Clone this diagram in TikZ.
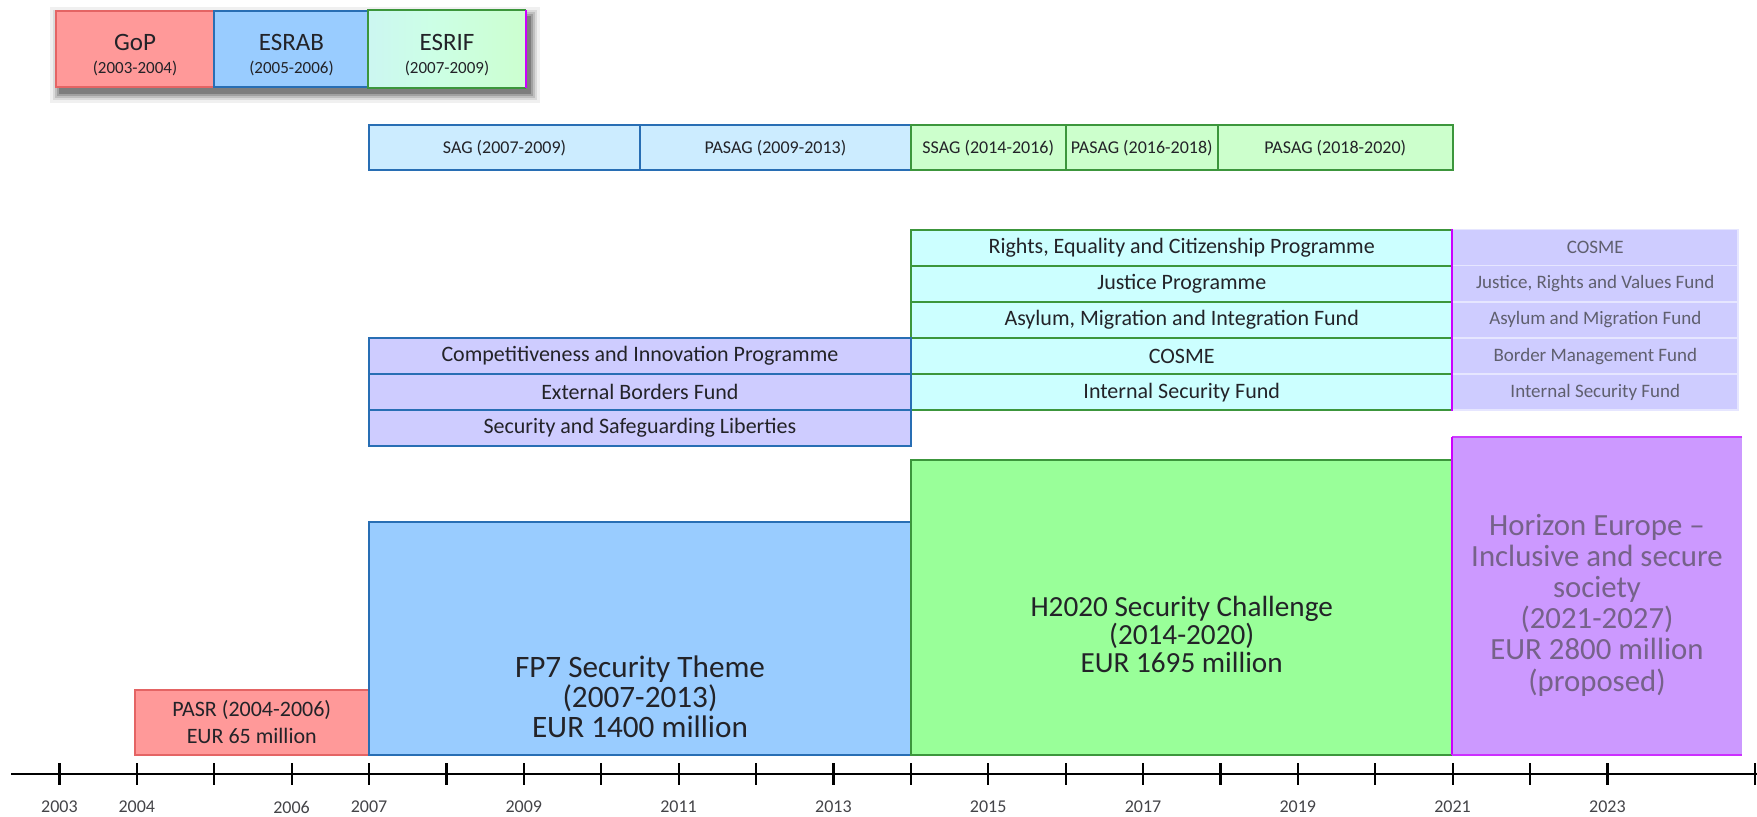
\documentclass[tikz,border=0pt]{standalone}
\usepackage{fontspec}
\setmainfont{Carlito}
\definecolor{redfill}{RGB}{255,153,153}
\definecolor{redline}{RGB}{228,100,100}
\definecolor{bluefill}{RGB}{153,204,255}
\definecolor{blueline}{RGB}{40,110,180}
\definecolor{greenfill}{RGB}{153,255,153}
\definecolor{greenline}{RGB}{60,150,60}
\definecolor{lgreen}{RGB}{204,255,204}
\definecolor{lblue}{RGB}{204,236,255}
\definecolor{lcyan}{RGB}{204,255,255}
\definecolor{lav}{RGB}{206,204,255}
\definecolor{purfill}{RGB}{204,153,255}
\definecolor{magline}{RGB}{204,0,255}
\definecolor{txt}{RGB}{35,35,40}
\definecolor{purtxt}{RGB}{118,98,138}
\definecolor{graytxt}{RGB}{95,95,110}
\pgfdeclarehorizontalshading{esrifshade}{100bp}{color(0bp)=(lblue); color(45bp)=(lcyan!50!lgreen); color(80bp)=(lgreen); color(92bp)=(lgreen!50!lav); color(100bp)=(lav)}
% box from (x1,y1) to (x2,y2), in pixel units (1px = 0.5pt)
\newcommand\bx[7]{%
  \pgfmathsetmacro\bxw{(#5-#3)*0.5}%
  \pgfmathsetmacro\bxh{(#6-#4)*0.5}%
  \node[#2, minimum width=\bxw pt, minimum height=\bxh pt, inner sep=0pt] (#1) at ({(#3+#5)/2},{(#4+#6)/2}) {#7};}
\tikzset{
  base/.style={line width=1pt, text=txt, align=center},
  topred/.style={base, fill=redfill, draw=redline},
  topblue/.style={base, fill=bluefill, draw=blueline},
  toptext/.style={align=center, text=txt, font=\fontsize{12.5}{11.5}\selectfont},
  sagblue/.style={base, fill=lblue, draw=blueline, font=\fontsize{9}{10}\selectfont},
  saggreen/.style={base, fill=lgreen, draw=greenline, font=\fontsize{9}{10}\selectfont},
  progcyan/.style={base, fill=lcyan, draw=greenline, font=\fontsize{11}{12}\selectfont},
  proglav/.style={base, fill=lav, draw=blueline, font=\fontsize{11}{12}\selectfont},
  futlav/.style={fill=lav, draw=lav!50!white, line width=0.7pt, text=graytxt, font=\fontsize{9.5}{11}\selectfont},
  bigbox/.style={base},
  bigtext/.style={align=center, text=txt},
  axis/.style={line width=1.1pt, black},
  ticklab/.style={font=\fontsize{9}{10}\selectfont, text=txt!85!white},
}
\begin{document}
\begin{tikzpicture}[x=0.5pt,y=-0.5pt]
\useasboundingbox (0,0) rectangle (1757,817);
% shadow of the top group
\foreach \e/\o in {10/0.06,7/0.09,5/0.12,3/0.16,1/0.22}{
  \fill[black,opacity=\o] (56+4-\e,11+6-\e) rectangle (525+5+\e,87+6+\e);
}
% top group
\bx{gop}{topred}{56}{11}{214}{87}{}
\bx{esrab}{topblue}{214}{11}{369}{87}{}
\bx{esrif}{base, shading=esrifshade}{369}{11}{525}{87}{}
\draw[greenline, line width=1pt] (esrif.north east) -- (esrif.north west) -- (esrif.south west) -- (esrif.south east);
\draw[magline, line width=1pt] (esrif.north east) -- (esrif.south east);
\node[toptext] (gopt) at (135,55) {GoP\\{\fontsize{8.5}{10}\selectfont (2003-2004)}};
\node[toptext] (esrabt) at (291.5,55) {ESRAB\\{\fontsize{8.5}{10}\selectfont (2005-2006)}};
\node[toptext] (esrift) at (447,55) {ESRIF\\{\fontsize{8.5}{10}\selectfont (2007-2009)}};
% advisory groups row
\bx{sag}{sagblue}{369}{125.5}{640}{170}{SAG (2007-2009)}
\bx{pasag1}{sagblue}{640}{125.5}{910.8}{170}{PASAG (2009-2013)}
\bx{ssag}{saggreen}{910.8}{125.5}{1065.6}{170}{SSAG (2014-2016)}
\bx{pasag2}{saggreen}{1065.6}{125.5}{1218}{170}{PASAG (2016-2018)}
\bx{pasag3}{saggreen}{1218}{125.5}{1452.6}{170}{PASAG (2018-2020)}
% 2014-2020 programmes
\bx{rec}{progcyan}{910.8}{229.7}{1452.6}{265.8}{Rights, Equality and Citizenship Programme}
\bx{jus}{progcyan}{910.8}{265.8}{1452.6}{301.9}{Justice Programme}
\bx{amif}{progcyan}{910.8}{301.9}{1452.6}{338}{Asylum, Migration and Integration Fund}
\bx{cosme}{progcyan}{910.8}{338}{1452.6}{374.1}{COSME}
\bx{isf}{progcyan}{910.8}{374.1}{1452.6}{410.2}{Internal Security Fund}
% 2021-2027 programmes
\bx{cosme2}{futlav}{1452.6}{229.7}{1738}{265.8}{COSME}
\bx{jrv}{futlav}{1452.6}{265.8}{1738}{301.9}{Justice, Rights and Values Fund}
\bx{amf}{futlav}{1452.6}{301.9}{1738}{338}{Asylum and Migration Fund}
\bx{bmf}{futlav}{1452.6}{338}{1738}{374.1}{Border Management Fund}
\bx{isf2}{futlav}{1452.6}{374.1}{1738}{410.2}{Internal Security Fund}
\draw[magline, line width=1pt] (cosme2.north west) -- (isf2.south west);
% 2007-2013 programmes
\bx{cip}{proglav}{369}{338}{910.8}{374.1}{Competitiveness and Innovation Programme}
\bx{ebf}{proglav}{369}{374.1}{910.8}{410.2}{External Borders Fund}
\bx{ssl}{proglav}{369}{410.2}{910.8}{446.3}{Security and Safeguarding Liberties}
% framework programmes
\bx{pasr}{topred, font=\fontsize{11}{13.5}\selectfont}{134.5}{690}{369}{755}{PASR (2004-2006)\\EUR 65 million}
\bx{fp7}{bigbox, fill=bluefill, draw=blueline}{369}{522}{910.8}{755}{}
\node[bigtext, font=\fontsize{15.6}{15}\selectfont] (fp7t) at (640,697) {FP7 Security Theme\\(2007-2013)\\EUR 1400 million};
\bx{h2020}{bigbox, fill=greenfill, draw=greenline}{910.8}{460.5}{1452.6}{755}{}
\node[bigtext, font=\fontsize{14.6}{14}\selectfont] (h2020t) at (1181.7,634) {H2020 Security Challenge\\(2014-2020)\\EUR 1695 million};
\bx{he}{fill=purfill}{1452.6}{437}{1742}{755}{}
\node[bigtext, text=purtxt, font=\fontsize{15.4}{15.6}\selectfont] (het) at (1597,605) {Horizon Europe --\\Inclusive and secure\\society\\(2021-2027)\\EUR 2800 million\\(proposed)};
\draw[purfill!40!magline, line width=1pt] (he.north east) -- (he.north west);
\draw[magline, line width=1pt] (he.north west) -- (he.south west);
\draw[purfill!30!magline, line width=1pt] (he.south west) -- (he.south east);
% axis
\coordinate (axl) at (11,774);
\coordinate (axr) at (1757,774);
\draw[axis] (axl) -- (axr);
\foreach \i in {0,...,20}{
  \draw[axis] ({59.4+77.4*\i},763) -- ({59.4+77.4*\i},785);
}
\draw[axis] (1755,763) -- (1755,785);
\foreach \y in {2003,2004,2006,2007,2009,2011,2013,2015,2017,2019,2021,2023}{
  \node[ticklab] (y\y) at ({59.4+77.4*(\y-2003)},807) {\y};
}
\end{tikzpicture}
\end{document}
